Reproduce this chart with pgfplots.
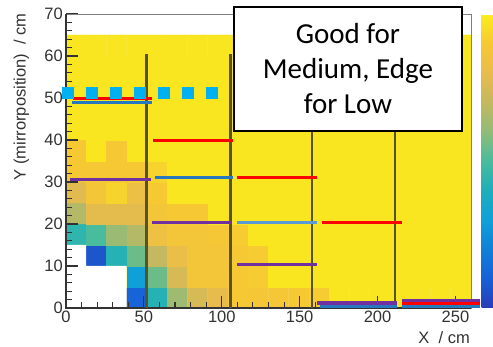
\documentclass[border=0pt]{standalone}
\usepackage{pgfplots}
\pgfplotsset{compat=1.18}
\usepackage{fontspec}
\setmainfont{Liberation Sans}
\newfontfamily\carlito{Carlito}
\definecolor{cred}{RGB}{255,0,0}
\definecolor{cblue}{RGB}{40,120,192}
\definecolor{lblue}{RGB}{91,155,213}
\definecolor{cpurp}{RGB}{112,48,160}
\definecolor{ccyan}{RGB}{0,176,240}
\definecolor{vline}{RGB}{88,82,40}
\definecolor{tickc}{RGB}{50,50,50}
\pgfplotsset{
  colormap={bird}{rgb255(0cm)=(42,60,180) rgb255(1cm)=(24,96,216) rgb255(2cm)=(16,128,216) rgb255(3cm)=(16,160,216) rgb255(4cm)=(30,174,186) rgb255(5cm)=(72,188,156) rgb255(6cm)=(144,188,120) rgb255(7cm)=(196,184,96) rgb255(8cm)=(232,188,76) rgb255(9cm)=(246,200,52) rgb255(10cm)=(250,238,28)},
  common/.style={scale only axis, width=405pt, height=294pt, xmin=0, xmax=260, ymin=0, ymax=70},
}
\begin{document}
\begin{tikzpicture}
\begin{axis}[common,
  axis on top,
  axis line style={draw=black!50, line width=0.9pt},
  xtick={0,50,100,150,200,250}, ytick={0,10,20,30,40,50,60,70},
  minor x tick num=4, minor y tick num=4,
  tick align=inside, xtick pos=left, ytick pos=left,
  major tick length=12pt, minor tick length=6pt,
  tick style={tickc, line width=1.1pt},
  /pgf/number format/assume math mode=true,
  ticklabel style={font=\fontsize{16.5}{18}\selectfont, text=tickc},
  yticklabel style={inner sep=0pt, xshift=-3pt},
  xticklabel style={inner sep=0pt, yshift=-3pt},
  ylabel={Y (mirrorposition)\ \ / cm},
  ylabel style={at={(axis description cs:-0.110,1.003)}, anchor=east, inner sep=0pt, font=\fontsize{16.5}{18}\selectfont, text=tickc},
  xlabel={X\ \ / cm},
  xlabel style={at={(axis description cs:0.9975,-0.102)}, anchor=east, inner sep=0pt, font=\fontsize{16.5}{18}\selectfont, text=tickc},
  colormap name=bird, point meta min=0, point meta max=1,
  colorbar,
  colorbar style={at={(parent axis.south east)}, anchor=south west, xshift=2pt,
    scale only axis, width=22pt, height=294pt,
    axis line style={draw=none},
    ytick={0,0.1,0.2,0.3,0.4,0.5,0.6,0.7,0.8,0.9,1},
    yticklabel={\relax},
    ytick pos=right, tick align=inside,
    major tick length=10pt, tick style={black, line width=1.1pt}},
]
\addplot[matrix plot*, mesh/cols=20, point meta=explicit] coordinates {
(6.5,2.5)[.98] (19.5,2.5)[.98] (32.5,2.5)[.98] (45.5,2.5)[.11] (58.5,2.5)[.42] (71.5,2.5)[.63] (84.5,2.5)[.75] (97.5,2.5)[.80] (110.5,2.5)[.90] (123.5,2.5)[.89] (136.5,2.5)[.89] (149.5,2.5)[.90] (162.5,2.5)[.91] (175.5,2.5)[.98] (188.5,2.5)[.98] (201.5,2.5)[.98] (214.5,2.5)[.98] (227.5,2.5)[.98] (240.5,2.5)[.98] (253.5,2.5)[.98]

(6.5,7.5)[.98] (19.5,7.5)[.98] (32.5,7.5)[.98] (45.5,7.5)[.30] (58.5,7.5)[.55] (71.5,7.5)[.75] (84.5,7.5)[.88] (97.5,7.5)[.88] (110.5,7.5)[.90] (123.5,7.5)[.91] (136.5,7.5)[.98] (149.5,7.5)[.98] (162.5,7.5)[.98] (175.5,7.5)[.98] (188.5,7.5)[.98] (201.5,7.5)[.98] (214.5,7.5)[.98] (227.5,7.5)[.98] (240.5,7.5)[.98] (253.5,7.5)[.98]

(6.5,12.5)[.98] (19.5,12.5)[.07] (32.5,12.5)[.42] (45.5,12.5)[.55] (58.5,12.5)[.70] (71.5,12.5)[.82] (84.5,12.5)[.88] (97.5,12.5)[.88] (110.5,12.5)[.90] (123.5,12.5)[.91] (136.5,12.5)[.98] (149.5,12.5)[.98] (162.5,12.5)[.98] (175.5,12.5)[.98] (188.5,12.5)[.98] (201.5,12.5)[.98] (214.5,12.5)[.98] (227.5,12.5)[.98] (240.5,12.5)[.98] (253.5,12.5)[.98]

(6.5,17.5)[.44] (19.5,17.5)[.50] (32.5,17.5)[.62] (45.5,17.5)[.67] (58.5,17.5)[.84] (71.5,17.5)[.88] (84.5,17.5)[.88] (97.5,17.5)[.89] (110.5,17.5)[.91] (123.5,17.5)[.98] (136.5,17.5)[.98] (149.5,17.5)[.98] (162.5,17.5)[.98] (175.5,17.5)[.98] (188.5,17.5)[.98] (201.5,17.5)[.98] (214.5,17.5)[.98] (227.5,17.5)[.98] (240.5,17.5)[.98] (253.5,17.5)[.98]

(6.5,22.5)[.67] (19.5,22.5)[.79] (32.5,22.5)[.79] (45.5,22.5)[.79] (58.5,22.5)[.88] (71.5,22.5)[.90] (84.5,22.5)[.90] (97.5,22.5)[.98] (110.5,22.5)[.98] (123.5,22.5)[.98] (136.5,22.5)[.98] (149.5,22.5)[.98] (162.5,22.5)[.98] (175.5,22.5)[.98] (188.5,22.5)[.98] (201.5,22.5)[.98] (214.5,22.5)[.98] (227.5,22.5)[.98] (240.5,22.5)[.98] (253.5,22.5)[.98]

(6.5,27.5)[.78] (19.5,27.5)[.88] (32.5,27.5)[.93] (45.5,27.5)[.83] (58.5,27.5)[.90] (71.5,27.5)[.98] (84.5,27.5)[.98] (97.5,27.5)[.98] (110.5,27.5)[.98] (123.5,27.5)[.98] (136.5,27.5)[.98] (149.5,27.5)[.98] (162.5,27.5)[.98] (175.5,27.5)[.98] (188.5,27.5)[.98] (201.5,27.5)[.98] (214.5,27.5)[.98] (227.5,27.5)[.98] (240.5,27.5)[.98] (253.5,27.5)[.98]

(6.5,32.5)[.90] (19.5,32.5)[.90] (32.5,32.5)[.90] (45.5,32.5)[.90] (58.5,32.5)[.93] (71.5,32.5)[.98] (84.5,32.5)[.98] (97.5,32.5)[.98] (110.5,32.5)[.98] (123.5,32.5)[.98] (136.5,32.5)[.98] (149.5,32.5)[.98] (162.5,32.5)[.98] (175.5,32.5)[.98] (188.5,32.5)[.98] (201.5,32.5)[.98] (214.5,32.5)[.98] (227.5,32.5)[.98] (240.5,32.5)[.98] (253.5,32.5)[.98]

(6.5,37.5)[.90] (19.5,37.5)[.98] (32.5,37.5)[.90] (45.5,37.5)[.98] (58.5,37.5)[.98] (71.5,37.5)[.98] (84.5,37.5)[.98] (97.5,37.5)[.98] (110.5,37.5)[.98] (123.5,37.5)[.98] (136.5,37.5)[.98] (149.5,37.5)[.98] (162.5,37.5)[.98] (175.5,37.5)[.98] (188.5,37.5)[.98] (201.5,37.5)[.98] (214.5,37.5)[.98] (227.5,37.5)[.98] (240.5,37.5)[.98] (253.5,37.5)[.98]

(6.5,42.5)[.98] (19.5,42.5)[.98] (32.5,42.5)[.98] (45.5,42.5)[.98] (58.5,42.5)[.98] (71.5,42.5)[.98] (84.5,42.5)[.98] (97.5,42.5)[.98] (110.5,42.5)[.98] (123.5,42.5)[.98] (136.5,42.5)[.98] (149.5,42.5)[.98] (162.5,42.5)[.98] (175.5,42.5)[.98] (188.5,42.5)[.98] (201.5,42.5)[.98] (214.5,42.5)[.98] (227.5,42.5)[.98] (240.5,42.5)[.98] (253.5,42.5)[.98]

(6.5,47.5)[.98] (19.5,47.5)[.98] (32.5,47.5)[.98] (45.5,47.5)[.98] (58.5,47.5)[.98] (71.5,47.5)[.98] (84.5,47.5)[.98] (97.5,47.5)[.98] (110.5,47.5)[.98] (123.5,47.5)[.98] (136.5,47.5)[.98] (149.5,47.5)[.98] (162.5,47.5)[.98] (175.5,47.5)[.98] (188.5,47.5)[.98] (201.5,47.5)[.98] (214.5,47.5)[.98] (227.5,47.5)[.98] (240.5,47.5)[.98] (253.5,47.5)[.98]

(6.5,52.5)[.98] (19.5,52.5)[.98] (32.5,52.5)[.98] (45.5,52.5)[.98] (58.5,52.5)[.98] (71.5,52.5)[.98] (84.5,52.5)[.98] (97.5,52.5)[.98] (110.5,52.5)[.98] (123.5,52.5)[.98] (136.5,52.5)[.98] (149.5,52.5)[.98] (162.5,52.5)[.98] (175.5,52.5)[.98] (188.5,52.5)[.98] (201.5,52.5)[.98] (214.5,52.5)[.98] (227.5,52.5)[.98] (240.5,52.5)[.98] (253.5,52.5)[.98]

(6.5,57.5)[.98] (19.5,57.5)[.98] (32.5,57.5)[.98] (45.5,57.5)[.98] (58.5,57.5)[.98] (71.5,57.5)[.98] (84.5,57.5)[.98] (97.5,57.5)[.98] (110.5,57.5)[.98] (123.5,57.5)[.98] (136.5,57.5)[.98] (149.5,57.5)[.98] (162.5,57.5)[.98] (175.5,57.5)[.98] (188.5,57.5)[.98] (201.5,57.5)[.98] (214.5,57.5)[.98] (227.5,57.5)[.98] (240.5,57.5)[.98] (253.5,57.5)[.98]

(6.5,62.5)[.98] (19.5,62.5)[.98] (32.5,62.5)[.98] (45.5,62.5)[.98] (58.5,62.5)[.98] (71.5,62.5)[.98] (84.5,62.5)[.98] (97.5,62.5)[.98] (110.5,62.5)[.98] (123.5,62.5)[.98] (136.5,62.5)[.98] (149.5,62.5)[.98] (162.5,62.5)[.98] (175.5,62.5)[.98] (188.5,62.5)[.98] (201.5,62.5)[.98] (214.5,62.5)[.98] (227.5,62.5)[.98] (240.5,62.5)[.98] (253.5,62.5)[.98]
};
\addplot[fill=white, draw=none] coordinates {(0,0) (39,0) (39,10) (13,10) (13,15) (0,15)} -- cycle;
\end{axis}
\begin{axis}[common, hide axis, clip=false]
\draw[black!80, line width=1.4pt] (rel axis cs:0,1) -- (rel axis cs:0,0) -- (rel axis cs:1,0);
% vertical separators
\addplot[vline, line width=2.7pt] coordinates {(51.5,0) (51.5,60.5)};
\addplot[vline, line width=2.7pt] coordinates {(105.5,0) (105.5,60.5)};
\addplot[vline, line width=2.7pt] coordinates {(158,0) (158,60.5)};
\addplot[vline, line width=2.7pt] coordinates {(211.3,0) (211.3,60.5)};
% column 1
\addplot[cred, line width=3.2pt] coordinates {(4.5,49.8) (55.2,49.8)};
\addplot[cblue, line width=3pt] coordinates {(3.9,49.0) (55.2,49.0)};
\addplot[cpurp, line width=3.2pt] coordinates {(2.6,30.6) (54.6,30.6)};
% column 2
\addplot[cred, line width=3.2pt] coordinates {(55.9,39.8) (107.2,39.8)};
\addplot[cblue, line width=3pt] coordinates {(57.1,31.1) (107.2,31.1)};
\addplot[cpurp, line width=3.2pt] coordinates {(55.2,20.3) (105.9,20.3)};
% column 3
\addplot[cred, line width=3.2pt] coordinates {(109.8,31.1) (161.1,31.1)};
\addplot[lblue, line width=3pt] coordinates {(109.8,20.3) (161.1,20.3)};
\addplot[cpurp, line width=3.2pt] coordinates {(109.8,10.4) (161.1,10.4)};
% column 4
\addplot[cred, line width=3.2pt] coordinates {(164.2,20.3) (215.5,20.3)};
\addplot[cblue, line width=3pt] coordinates {(163,0.45) (212.5,0.45)};
\addplot[cpurp, line width=3.2pt] coordinates {(161.1,1.2) (212.3,1.2)};
% column 5
\addplot[cblue, line width=3pt] coordinates {(215.5,0.45) (265.8,0.45)};
\addplot[cpurp, line width=3.2pt] coordinates {(215.5,1.8) (265.8,1.8)};
\addplot[cred, line width=3.2pt] coordinates {(215.5,1.12) (265.8,1.12)};
% dotted cyan line
\addplot[ccyan, line width=12pt, dash pattern=on 12pt off 12pt] coordinates {(-2.6,51.2) (97.6,51.2)};
\node[draw=black, line width=1.8pt, fill=white, minimum width=228pt, minimum height=124pt, align=center, inner sep=0pt, font=\carlito\fontsize{29}{35}\selectfont] at (axis cs:181,56.9) {Good for\\Medium, Edge\\for Low};
\end{axis}
\pgfresetboundingbox
\useasboundingbox (-66pt,-39pt) rectangle (427pt,308pt);
\end{tikzpicture}
\end{document}
